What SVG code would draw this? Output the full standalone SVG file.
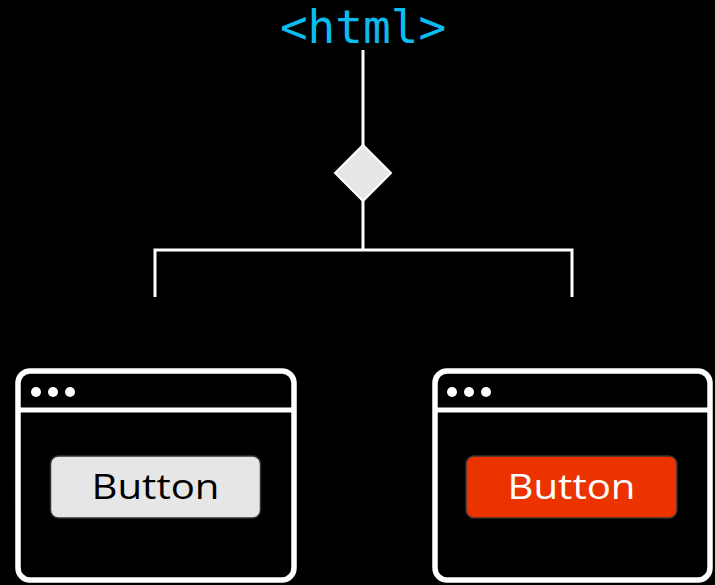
<svg xmlns="http://www.w3.org/2000/svg" width="715" height="585" viewBox="0 0 715 585">
  <style>
    .wire { fill: none; stroke: #ffffff; stroke-width: 3; }
    .frame { fill: #000000; stroke: #ffffff; stroke-width: 5.5; }
    .bar { stroke: #ffffff; stroke-width: 5; }
    .dot { fill: #ffffff; }
    .btn { stroke: #333333; stroke-width: 1.5; }
    .btn-label { font-family: "Open Sans", "Liberation Sans", sans-serif; font-size: 34px; text-anchor: middle; }
  </style>
  <rect width="715" height="585" fill="#000000"/>

  <g id="root">
    <text x="363" y="43" font-family="'DejaVu Sans Mono', 'Liberation Mono', monospace" font-size="46" fill="#0bbcf0" text-anchor="middle">&lt;html&gt;</text>
  </g>

  <g id="connectors">
    <line class="wire" x1="363" y1="50" x2="363" y2="146"/>
    <line class="wire" x1="363" y1="200" x2="363" y2="250"/>
    <polyline class="wire" points="155,297 155,250 572,250 572,297"/>
  </g>

  <g id="choice">
    <polygon points="363,145 391,173 363,201 335,173" fill="#e6e6e6" stroke="#ffffff" stroke-width="2"/>
  </g>

  <g id="window-left">
    <rect class="frame" x="18" y="371" width="276" height="209" rx="12"/>
    <line class="bar" x1="18" y1="410" x2="294" y2="410"/>
    <circle class="dot" cx="36" cy="392" r="5"/>
    <circle class="dot" cx="53" cy="392" r="5"/>
    <circle class="dot" cx="70" cy="392" r="5"/>
    <rect class="btn" x="50.5" y="456" width="210" height="62" rx="8" fill="#e6e6e6"/>
    <text class="btn-label" x="155.5" y="499" fill="#000000" textLength="128" lengthAdjust="spacingAndGlyphs">Button</text>
  </g>

  <g id="window-right">
    <rect class="frame" x="435" y="371" width="275" height="209" rx="12"/>
    <line class="bar" x1="435" y1="410" x2="710" y2="410"/>
    <circle class="dot" cx="452" cy="392" r="5"/>
    <circle class="dot" cx="469" cy="392" r="5"/>
    <circle class="dot" cx="486" cy="392" r="5"/>
    <rect class="btn" x="466" y="456" width="211" height="62" rx="8" fill="#eb3300"/>
    <text class="btn-label" x="571.5" y="499" fill="#ffffff" textLength="128" lengthAdjust="spacingAndGlyphs">Button</text>
  </g>
</svg>
